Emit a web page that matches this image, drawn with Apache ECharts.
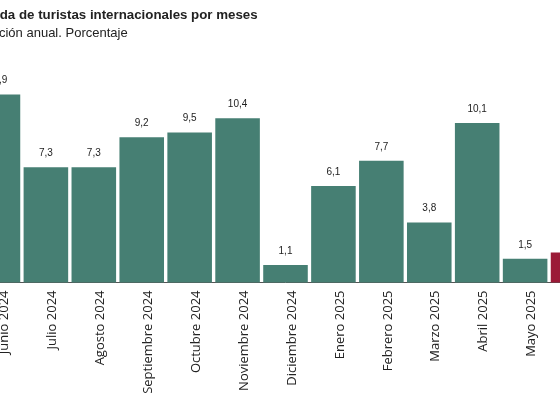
<!DOCTYPE html>
<html>
<head>
<meta charset="utf-8">
<script src="https://cdn.jsdelivr.net/npm/echarts@6/dist/echarts.min.js"></script>
<style>
  html, body { margin: 0; padding: 0; overflow: hidden; background: #fff; }
  #wrap { width: 560px; height: 398px; overflow: hidden; position: relative; }
  #main { width: 680px; height: 398px; position: absolute; left: -40px; top: 0; }
</style>
</head>
<body>
<div id="wrap"><div id="main"></div></div>
<script>
// meses y variación anual (%)
var meses = ["Junio 2024", "Julio 2024", "Agosto 2024", "Septiembre 2024", "Octubre 2024",
    "Noviembre 2024", "Diciembre 2024", "Enero 2025", "Febrero 2025", "Marzo 2025",
    "Abril 2025", "Mayo 2025", "Junio 2025"];
var variacion = [11.9, 7.3, 7.3, 9.2, 9.5, 10.4, 1.1, 6.1, 7.7, 3.8, 10.1, 1.5, 1.9];
var colorBase = "#467f73";
var colorUltimo = "#9b1a37";

var Mychart = echarts.init(document.getElementById("main"));
var datos = variacion.map(function (v, i) {
    return {
        value: v,
        itemStyle: { color: i == variacion.length - 1 ? colorUltimo : colorBase }
    };
});
var option = {
    animation: false,
    title: [{
        text: "Llegada de turistas internacionales por meses",
        left: 0,
        top: 4,
        textStyle: { fontFamily: "Liberation Sans", fontWeight: "bold", fontSize: 13.3, color: "#222" }
    }, {
        text: "Variación anual. Porcentaje",
        left: 4.6,
        top: 22,
        textStyle: { fontFamily: "Liberation Sans", fontWeight: "normal", fontSize: 13, color: "#222" }
    }],
    grid: { left: 14, width: 623, top: 92.9, bottom: 115.5 },
    xAxis: {
        type: "category",
        data: meses,
        axisLine: { lineStyle: { color: "#555", width: 1 } },
        axisTick: { length: 9, lineStyle: { color: "#222" } },
        axisLabel: {
            rotate: 90,
            interval: 0,
            margin: 8,
            verticalAlign: "top",
            fontFamily: "Open Sans",
            fontSize: 13,
            color: "#222"
        }
    },
    yAxis: { type: "value", min: 0, max: 12, show: false },
    series: [{
        type: "bar",
        data: datos,
        barCategoryGap: "7%",
        label: {
            show: true,
            position: "top",
            distance: 9,
            fontFamily: "Liberation Sans",
            fontSize: 10,
            color: "#222",
            formatter: function (p) { return String(p.value).replace(".", ","); }
        }
    }]
};
Mychart.setOption(option);
</script>
</body>
</html>
